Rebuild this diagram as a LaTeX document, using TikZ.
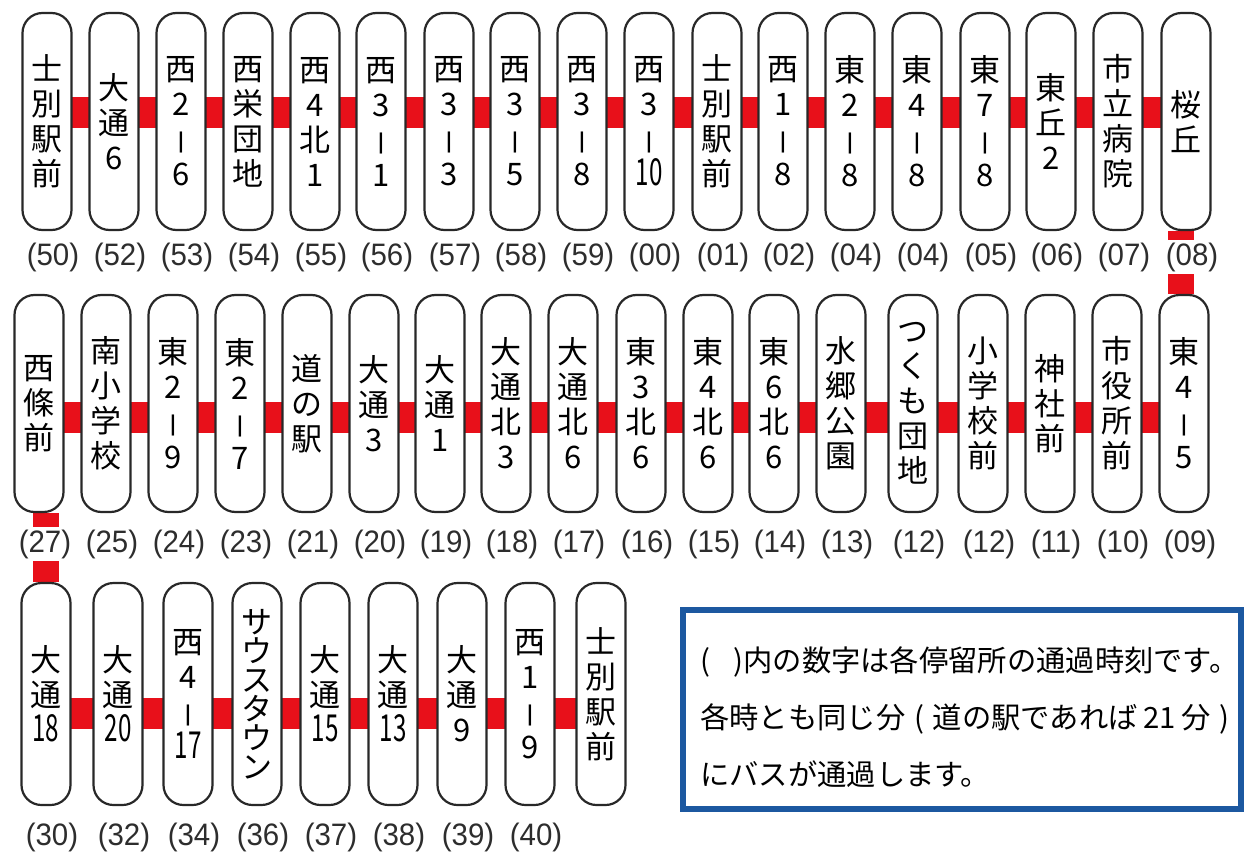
\documentclass[tikz,border=0pt]{standalone}
\usepackage{fontspec}
\setmainfont{Noto Sans CJK JP}
\newfontfamily\labfont{Liberation Sans}
\usetikzlibrary{backgrounds}
\definecolor{busred}{RGB}{232,16,26}
\definecolor{boxline}{RGB}{40,40,40}
\definecolor{frameblue}{RGB}{28,88,160}
\definecolor{labgray}{RGB}{45,45,45}
\newcommand\vd{\makebox[20pt][c]{\scalebox{1.8}[0.68]{｜}}}
\newcommand\nn[1]{\scalebox{0.78}[1.2]{#1}}
\newcommand\lb[1]{\scalebox{0.95}[1]{(#1)}}
\tikzset{
  stopbox/.style={draw=boxline, line width=2.2pt, fill=white, rounded corners=20pt,
    minimum width=49pt, minimum height=217pt, inner sep=0pt, align=center,
    font=\fontsize{31}{35}\selectfont},
  stopboxlow/.style={stopbox, minimum height=222pt},
  redbar/.style={busred, line width=31pt},
  redvbar/.style={busred, line width=26pt},
  timelab/.style={font=\labfont\fontsize{31}{31}\selectfont, text=labgray, fill=white,
    inner xsep=1pt, inner ysep=3pt},
  notebox/.style={draw=frameblue, line width=6pt},
  notetext/.style={align=left, inner sep=0pt, font=\fontsize{29.3}{57}\selectfont}
}
\begin{document}
\begin{tikzpicture}[x=1pt,y=-1pt]
\useasboundingbox (0,0) rectangle (1245,856);
\coordinate (r1) at (0,112.5);
\coordinate (r2) at (0,417.5);
\coordinate (r3) at (0,713.5);
\coordinate (l1) at (0,257);
\coordinate (l2) at (0,544);
\coordinate (l3) at (0,837);
\coordinate (v1) at (1181,0);
% row 1
\node[stopbox] (a1) at (47,121.5) {士\\別\\駅\\前};
\node[stopbox] (a2) at (114,121.5) {大\\通\\6};
\node[stopbox] (a3) at (181,121.5) {西\\2\\\vd\\6};
\node[stopbox] (a4) at (248,121.5) {西\\栄\\団\\地};
\node[stopbox] (a5) at (315,121.5) {西\\4\\北\\1};
\node[stopbox] (a6) at (381,121.5) {西\\3\\\vd\\1};
\node[stopbox] (a7) at (449,121.5) {西\\3\\\vd\\3};
\node[stopbox] (a8) at (515,121.5) {西\\3\\\vd\\5};
\node[stopbox] (a9) at (582,121.5) {西\\3\\\vd\\8};
\node[stopbox] (a10) at (649,121.5) {西\\3\\\vd\\\nn{10}};
\node[stopbox] (a11) at (717,121.5) {士\\別\\駅\\前};
\node[stopbox] (a12) at (783,121.5) {西\\1\\\vd\\8};
\node[stopbox] (a13) at (850,121.5) {東\\2\\\vd\\8};
\node[stopbox] (a14) at (917,121.5) {東\\4\\\vd\\8};
\node[stopbox] (a15) at (985,121.5) {東\\7\\\vd\\8};
\node[stopbox] (a16) at (1051,121.5) {東\\丘\\2};
\node[stopbox] (a17) at (1118,121.5) {市\\立\\病\\院};
\node[stopbox] (a18) at (1186,121.5) {桜\\丘};
% row 2
\node[stopbox] (b1) at (39,403.5) {西\\條\\前};
\node[stopbox] (b2) at (106,403.5) {南\\小\\学\\校};
\node[stopbox] (b3) at (173,403.5) {東\\2\\\vd\\9};
\node[stopbox] (b4) at (240,403.5) {東\\2\\\vd\\7};
\node[stopbox] (b5) at (307,403.5) {道\\の\\駅};
\node[stopbox] (b6) at (374,403.5) {大\\通\\3};
\node[stopbox] (b7) at (440,403.5) {大\\通\\1};
\node[stopbox] (b8) at (506,403.5) {大\\通\\北\\3};
\node[stopbox] (b9) at (573,403.5) {大\\通\\北\\6};
\node[stopbox] (b10) at (641,403.5) {東\\3\\北\\6};
\node[stopbox] (b11) at (708,403.5) {東\\4\\北\\6};
\node[stopbox] (b12) at (774,403.5) {東\\6\\北\\6};
\node[stopbox] (b13) at (841,403.5) {水\\郷\\公\\園};
\node[stopbox] (b14) at (913,403.5) {つ\\く\\も\\団\\地};
\node[stopbox] (b15) at (983,403.5) {小\\学\\校\\前};
\node[stopbox] (b16) at (1050,403.5) {神\\社\\前};
\node[stopbox] (b17) at (1117,403.5) {市\\役\\所\\前};
\node[stopbox] (b18) at (1184,403.5) {東\\4\\\vd\\5};
% row 3
\node[stopboxlow] (c1) at (46,694) {大\\通\\\nn{18}};
\node[stopboxlow] (c2) at (118,694) {大\\通\\\nn{20}};
\node[stopboxlow] (c3) at (188,694) {西\\4\\\vd\\\nn{17}};
\node[stopboxlow, font=\fontsize{31}{29}\selectfont] (c4) at (257,694) {サ\\ウ\\ス\\タ\\ウ\\ン};
\node[stopboxlow] (c5) at (325,694) {大\\通\\\nn{15}};
\node[stopboxlow] (c6) at (393,694) {大\\通\\\nn{13}};
\node[stopboxlow] (c7) at (462,694) {大\\通\\9};
\node[stopboxlow] (c8) at (530,694) {西\\1\\\vd\\9};
\node[stopboxlow] (c9) at (601,694) {士\\別\\駅\\前};
% time labels
\foreach \nm/\tm in {a1/50,a2/52,a3/53,a4/54,a5/55,a6/56,a7/57,a8/58,a9/59,a10/00,
  a11/01,a12/02,a13/04,a14/04,a15/05,a16/06,a17/07,a18/08}
  \node[timelab, xshift=6pt] (t\nm) at (\nm |- l1) {\lb{\tm}};
\foreach \nm/\tm in {b1/27,b2/25,b3/24,b4/23,b5/21,b6/20,b7/19,b8/18,b9/17,b10/16,
  b11/15,b12/14,b13/13,b14/12,b15/12,b16/11,b17/10,b18/09}
  \node[timelab, xshift=6pt] (t\nm) at (\nm |- l2) {\lb{\tm}};
\foreach \nm/\tm in {c1/30,c2/32,c3/34,c4/36,c5/37,c6/38,c7/39,c8/40}
  \node[timelab, xshift=6pt] (t\nm) at (\nm |- l3) {\lb{\tm}};
% note
\node[notebox, minimum width=558pt, minimum height=199pt, inner sep=0pt] (note) at (962,709.5) {};
\node[notetext, anchor=west] (notetxt) at (700,717)
  {(\hspace{0.8em})内の数字は各停留所の通過時刻です。\\
   各時とも同じ分\hspace{0.3em}(\hspace{0.3em}道の駅であれば\hspace{0.2em}21\hspace{0.2em}分\hspace{0.3em})\\
   にバスが通過します。};
% connectors
\begin{pgfonlayer}{background}
\fill[white] (0,0) rectangle (1245,856);
\foreach \p/\q in {a1/a2,a2/a3,a3/a4,a4/a5,a5/a6,a6/a7,a7/a8,a8/a9,a9/a10,a10/a11,
  a11/a12,a12/a13,a13/a14,a14/a15,a15/a16,a16/a17,a17/a18}
  \draw[redbar] (\p |- r1) -- (\q |- r1);
\foreach \p/\q in {b1/b2,b2/b3,b3/b4,b4/b5,b5/b6,b6/b7,b7/b8,b8/b9,b9/b10,b10/b11,
  b11/b12,b12/b13,b13/b14,b14/b15,b15/b16,b16/b17,b17/b18}
  \draw[redbar] (\p |- r2) -- (\q |- r2);
\foreach \p/\q in {c1/c2,c2/c3,c3/c4,c4/c5,c5/c6,c6/c7,c7/c8,c8/c9}
  \draw[redbar] (\p |- r3) -- (\q |- r3);
\draw[redvbar] (a18.south -| v1) -- (b18.north -| v1);
\draw[redvbar] (b1.south -| c1) -- (c1.north);
\end{pgfonlayer}
\end{tikzpicture}
\end{document}
